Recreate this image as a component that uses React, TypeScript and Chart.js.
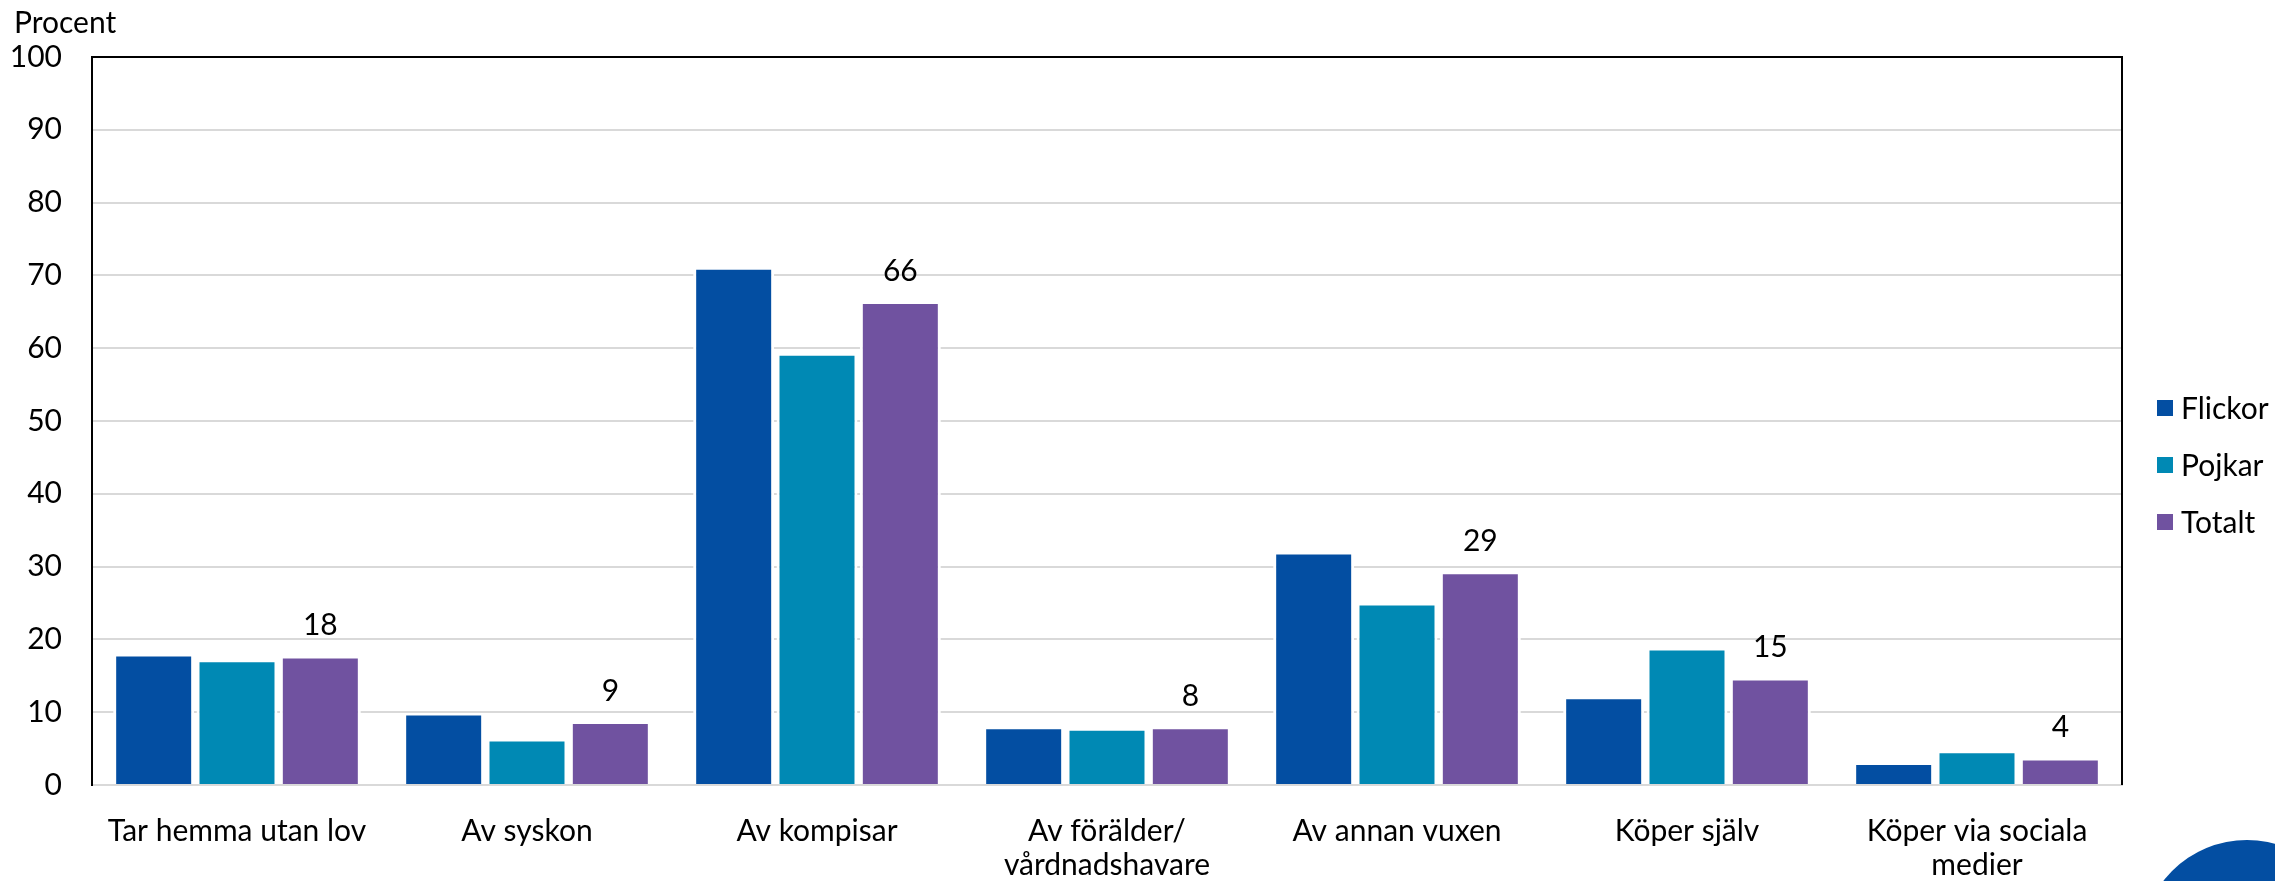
import React, { useEffect, useRef } from "react";
import { Chart, registerables } from "chart.js";

Chart.register(...registerables);

const categories: string[][] = [
  ["Tar hemma utan lov"],
  ["Av syskon"],
  ["Av kompisar"],
  ["Av förälder/", "vårdnadshavare"],
  ["Av annan vuxen"],
  ["Köper själv"],
  ["Köper via sociala", "medier"],
];
const flickor = [17.8, 9.7, 70.9, 7.8, 31.8, 11.9, 2.9];
const pojkar = [17.0, 6.1, 59.1, 7.6, 24.8, 18.6, 4.5];
const totalt = [17.5, 8.5, 66.2, 7.8, 29.1, 14.5, 3.5];
const seriesNames = ["Flickor", "Pojkar", "Totalt"];
const seriesColors = ["#034EA2", "#0089B4", "#7052A0"];
const yAxisTitle = "Procent";
const yMin = 0;
const yMax = 100;
const yStep = 10;

const FONT = "Lato";
const FS = 30;

const overlayPlugin = {
  id: "overlay",
  afterDraw(chart: any) {
    const ctx = chart.ctx;
    const area = chart.chartArea;
    ctx.save();
    // frame (top + right)
    ctx.strokeStyle = "#000";
    ctx.lineWidth = 2;
    ctx.beginPath();
    ctx.moveTo(area.left - 1, area.top);
    ctx.lineTo(area.right, area.top);
    ctx.lineTo(area.right, area.bottom);
    ctx.stroke();

    // data labels on Totalt
    const meta = chart.getDatasetMeta(2);
    ctx.fillStyle = "#000";
    ctx.font = `${FS}px ${FONT}`;
    ctx.textAlign = "center";
    ctx.textBaseline = "middle";
    meta.data.forEach((el: any, i: number) => {
      ctx.fillText(String(Math.round(totalt[i])), el.x, el.y - 32);
    });

    // y axis title
    ctx.textAlign = "left";
    ctx.fillText(yAxisTitle, 14, area.top - 34);

    // legend
    const mid = (area.top + area.bottom) / 2 + 44;
    seriesNames.forEach((name, i) => {
      const cy = mid + (i - 1) * 57;
      ctx.fillStyle = seriesColors[i];
      ctx.fillRect(area.right + 35, cy - 8, 16, 16);
      ctx.fillStyle = "#000";
      ctx.textAlign = "left";
      ctx.fillText(name, area.right + 59, cy + 1);
    });
    ctx.restore();
  },
};

export default function App() {
  const canvasRef = useRef<HTMLCanvasElement | null>(null);

  useEffect(() => {
    document.body.style.margin = "0";
    const canvas = canvasRef.current!;
    const chart = new Chart(canvas, {
      type: "bar",
      data: {
        labels: categories,
        datasets: [flickor, pojkar, totalt].map((d, i) => ({
          label: seriesNames[i],
          data: d,
          backgroundColor: seriesColors[i],
          borderColor: "#ffffff",
          borderWidth: { left: 3, right: 3, top: 1, bottom: 0 },
          borderSkipped: false,
          barPercentage: 0.972,
          categoryPercentage: 0.862,
        })),
      },
      options: {
        animation: false,
        responsive: false,
        maintainAspectRatio: false,
        layout: { padding: { top: 57, left: 0, right: 153, bottom: 0 } },
        plugins: {
          legend: { display: false },
          tooltip: { enabled: false },
        },
        scales: {
          x: {
            grid: { display: false, drawTicks: false },
            border: { display: true, color: "#d9d9d9", width: 2 },
            ticks: {
              color: "#000",
              font: { family: FONT, size: FS, lineHeight: "34px" },
              padding: 29,
              autoSkip: false,
              maxRotation: 0,
            },
            afterFit(scale: any) {
              scale.height = 96;
            },
          },
          y: {
            min: yMin,
            max: yMax,
            grid: { color: "#d9d9d9", lineWidth: 2, drawTicks: false },
            border: { display: true, color: "#000", width: 2 },
            ticks: {
              stepSize: yStep,
              color: "#000",
              font: { family: FONT, size: FS },
              padding: 30,
            },
            afterFit(scale: any) {
              scale.width = 92;
            },
          },
        },
      },
      plugins: [overlayPlugin],
    });
    return () => chart.destroy();
  }, []);

  return (
    <div style={{ position: "relative", width: 2275, height: 881, overflow: "hidden", background: "#fff" }}>
      <canvas ref={canvasRef} width={2275} height={881} style={{ display: "block" }} />
      <div
        style={{
          position: "absolute",
          left: 2141,
          top: 840,
          width: 212,
          height: 212,
          borderRadius: "50%",
          background: "#034EA2",
        }}
      />
    </div>
  );
}
